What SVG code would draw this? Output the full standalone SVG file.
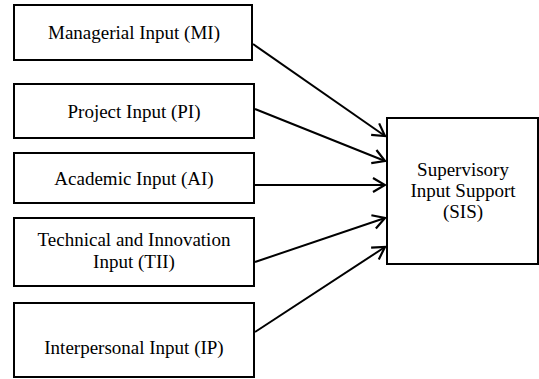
<svg xmlns="http://www.w3.org/2000/svg" width="539" height="379" viewBox="0 0 539 379">
<style>
.box{fill:#fff;stroke:#000;stroke-width:2}
.lbl{font-family:"Liberation Serif","Times New Roman",serif;font-size:19px;fill:#000;text-anchor:middle}
.edge{stroke:#000;stroke-width:2;fill:none}
</style>
<defs>
<marker id="arr" markerUnits="userSpaceOnUse" markerWidth="16" markerHeight="18" viewBox="0 0 16 18" refX="14" refY="9" orient="auto">
<path d="M2,2 L14,9 L2,16" fill="none" stroke="#000" stroke-width="2.2"/>
</marker>
</defs>
<rect width="539" height="379" fill="#fff"/>
<g id="mi"><rect class="box" x="14" y="5" width="238" height="55"/><text class="lbl" x="134" y="39">Managerial Input (MI)</text></g>
<g id="pi"><rect class="box" x="14" y="84" width="240" height="54"/><text class="lbl" x="134" y="118">Project Input (PI)</text></g>
<g id="ai"><rect class="box" x="14" y="153" width="240" height="50"/><text class="lbl" x="134" y="185">Academic Input (AI)</text></g>
<g id="tii"><rect class="box" x="14" y="218" width="240" height="68"/><text class="lbl" x="134" y="246">Technical and Innovation</text><text class="lbl" x="134" y="268">Input (TII)</text></g>
<g id="ip"><rect class="box" x="14" y="303" width="240" height="74"/><text class="lbl" x="134" y="354">Interpersonal Input (IP)</text></g>
<g id="sis"><rect class="box" x="387" y="118" width="151" height="146"/><text class="lbl" x="463" y="176">Supervisory</text><text class="lbl" x="463" y="197">Input Support</text><text class="lbl" x="463" y="218">(SIS)</text></g>
<g id="connectors">
<line class="edge" x1="253" y1="44" x2="385" y2="136" marker-end="url(#arr)"/>
<line class="edge" x1="255" y1="109" x2="385" y2="161" marker-end="url(#arr)"/>
<line class="edge" x1="255" y1="185" x2="385" y2="185" marker-end="url(#arr)"/>
<line class="edge" x1="255" y1="262" x2="385" y2="218" marker-end="url(#arr)"/>
<line class="edge" x1="255" y1="332" x2="385" y2="247" marker-end="url(#arr)"/>
</g>
</svg>
